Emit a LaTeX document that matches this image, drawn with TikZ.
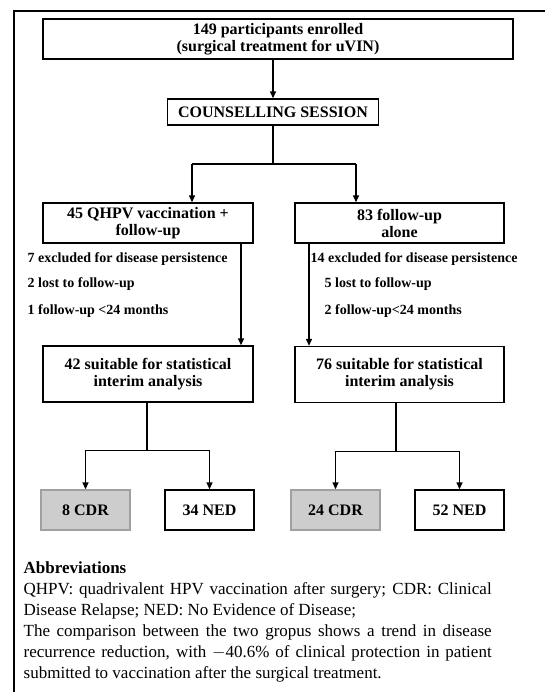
\documentclass[tikz,border=0pt]{standalone}
\usepackage{fontspec}
\setmainfont{Liberation Serif}
\usetikzlibrary{arrows.meta}

\definecolor{cdrfill}{RGB}{205,205,205}
\definecolor{cdrline}{RGB}{160,160,160}

\begin{document}
\begin{tikzpicture}[x=1pt,y=-1pt,line width=1.4pt,>={Triangle[width=6pt,length=7pt]}]
				\tikzstyle{every node}=[inner sep=0pt]
				\tikzstyle{flowbox}=[draw,align=center,font=\bfseries\fontsize{16}{17}\selectfont]
				\tikzstyle{cdrbox}=[flowbox,fill=cdrfill,draw=cdrline,minimum width=89pt,minimum height=40pt]
				\tikzstyle{nedbox}=[flowbox,minimum width=89pt,minimum height=40pt]
				\tikzstyle{lossnote}=[anchor=west,font=\bfseries\fontsize{14}{16}\selectfont]
				\useasboundingbox (0,0) rectangle (545,692);
				% frame
				\draw (14,692) -- (14,11) -- (545,11);
				% top
				\node[flowbox,minimum width=470pt,minimum height=40pt] (enrol) at (278,39) {149 participants enrolled\\(surgical treatment for uVIN)};
				\node[flowbox,minimum width=211pt,minimum height=26pt] (couns) at (273,112) {COUNSELLING SESSION};
				\draw[->] (enrol.south -| couns.north) -- (couns.north);
				% groups
				\node[flowbox,minimum width=210pt,minimum height=40pt] (grpA) at (148,223) {45 QHPV vaccination +\\follow-up};
				\node[flowbox,minimum width=209pt,minimum height=40pt] (grpB) at (399.5,223) {83 follow-up\\alone};
				\coordinate (brA) at (192,164);
				\coordinate (brB) at (356,164);
				\draw (couns.south) -- (couns.south |- brA);
				\draw (brA) -- (brB);
				\draw[->] (brA) -- (brA |- grpA.north);
				\draw[->] (brB) -- (brB |- grpB.north);
				% losses
				\node[lossnote] (exA1) at (27,259) {7 excluded for disease persistence};
				\node[lossnote] (exA2) at (27,284) {2 lost to follow-up};
				\node[lossnote] (exA3) at (27,311) {1 follow-up <24 months};
				\node[lossnote] (exB1) at (310,259) {14 excluded for disease persistence};
				\node[lossnote] (exB2) at (324,284) {5 lost to follow-up};
				\node[lossnote] (exB3) at (324,311) {2 follow-up<24 months};
				% analysis
				\node[flowbox,minimum width=210pt,minimum height=56pt] (suitA) at (148,374) {42 suitable for statistical\\interim analysis};
				\node[flowbox,minimum width=209pt,minimum height=56pt] (suitB) at (399.5,374.5) {76 suitable for statistical\\interim analysis};
				\draw[->] ([xshift=93pt]grpA.south) -- ([xshift=93pt]grpA.south |- suitA.north);
				\draw[->] ([xshift=-90.5pt]grpB.south) -- ([xshift=-90.5pt]grpB.south |- suitB.north);
				% outcomes
				\node[cdrbox] (cdrA) at (85.5,510) {8 CDR};
				\node[nedbox] (nedA) at (209.5,510) {34 NED};
				\node[cdrbox] (cdrB) at (335.5,510) {24 CDR};
				\node[nedbox] (nedB) at (459.5,510) {52 NED};
				\draw ([xshift=-1pt]suitA.south) -- ++(0,48) coordinate (jA);
				\draw[->] (jA) -| (cdrA.north);
				\draw[->] (jA) -| (nedA.north);
				\draw ([xshift=-3.5pt]suitB.south) -- ++(0,48) coordinate (jB);
				\draw[->] (jB) -| (cdrB.north);
				\draw[->] (jB) -| (nedB.north);
				% legend
				\node[anchor=north west,text width=468pt,align=justify,font=\fontsize{17}{21}\selectfont] (abbr) at (23,561) {\textbf{Abbreviations}\\QHPV: quadrivalent HPV vaccination after surgery; CDR: Clinical\linebreak Disease Relapse; NED: No Evidence of Disease;\\The comparison between the two gropus shows a trend in disease\linebreak recurrence reduction, with $-$40.6\% of clinical protection in patient\linebreak submitted to vaccination after the surgical treatment.};
\end{tikzpicture}
\end{document}
